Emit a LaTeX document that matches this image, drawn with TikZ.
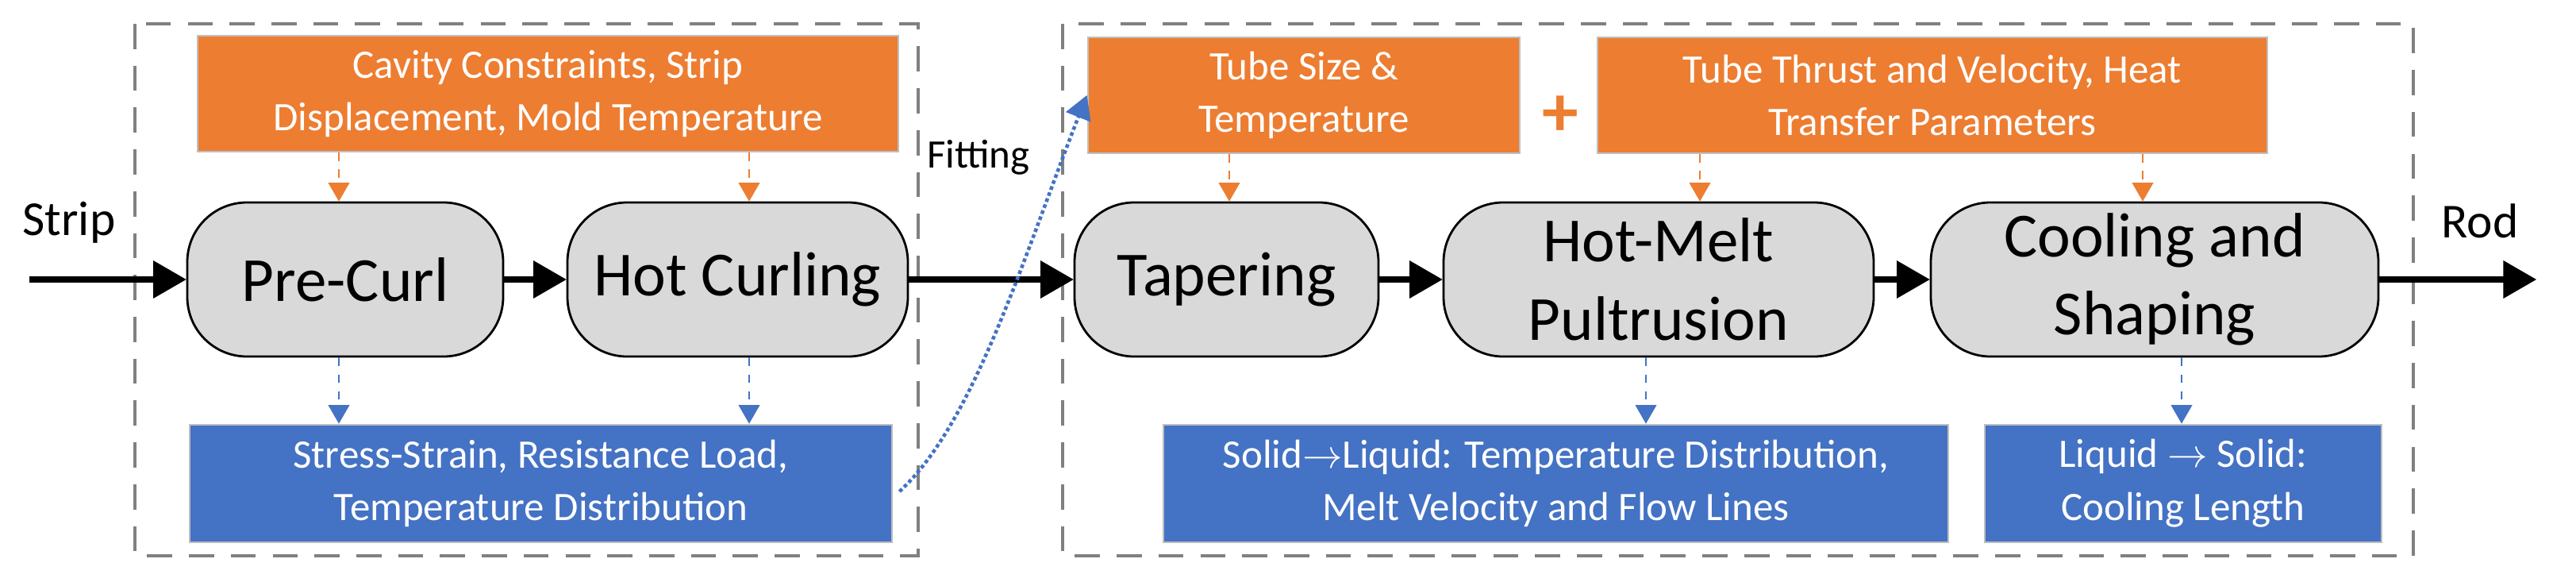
\documentclass[tikz,border=0pt]{standalone}
\usepackage{fontspec}
\setmainfont{Carlito}
\usetikzlibrary{shapes,positioning,arrows}
\definecolor{porange}{HTML}{ED7D31}
\definecolor{pblue}{HTML}{4472C4}
\definecolor{pgray}{HTML}{D9D9D9}
\begin{document}
\begin{tikzpicture}

  \useasboundingbox (0,0) rectangle (32.46,-7.33);

  \coordinate (Strip) at (0.37,-3.52);
  \coordinate (Rod) at (31.96,-3.52);
  \coordinate (PreCurl) at (4.35,-3.52);
  \coordinate (HotCurl) at (9.295,-3.52);
  \coordinate (Taper) at (15.455,-3.52);
  \coordinate (Melt) at (20.9,-3.52);
  \coordinate (Cool) at (27.15,-3.52);

  \tikzstyle{pbox}=[draw=black,thick,fill=pgray,
                    shape=rectangle,rounded corners=0.75cm,
                    inner sep=2pt,minimum height=1.94cm,
                    align=center,font=\fontsize{22.5}{28}\selectfont];
  \tikzstyle{obox}=[draw=black!25,thick,fill=porange,text=white,
                    shape=rectangle,inner sep=2pt,minimum height=1.46cm,
                    align=center,font=\fontsize{14.5}{19}\selectfont];
  \tikzstyle{bbox}=[draw=black!25,thick,fill=pblue,text=white,
                    shape=rectangle,inner sep=2pt,minimum height=1.48cm,
                    align=center,font=\fontsize{14.5}{19}\selectfont];
  \tikzstyle{flow}=[->,line width=2.3pt,>=triangle 60];
  \tikzstyle{odash}=[->,dashed,thick,color=porange,>=triangle 60];
  \tikzstyle{bdash}=[->,dashed,thick,color=pblue,>=triangle 60];
  \tikzstyle{frame}=[draw=black!50,dashed,line width=1.3pt,dash pattern=on 9pt off 6pt];

  % dashed groups
  \draw[frame] (1.70,-0.30) rectangle (11.57,-7.00);
  \draw[frame] (13.39,-0.30) rectangle (30.41,-7.00);

  % inputs
  \node[obox,minimum width=8.83cm] (CavityBox) at (6.905,-1.18)
      {Cavity Constraints, Strip\\Displacement, Mold Temperature};
  \node[obox,minimum width=5.44cm] (TubeBox) at (16.43,-1.20)
      {Tube Size \&\\Temperature};
  \node[obox,minimum width=8.44cm] (ThrustBox) at (24.35,-1.20)
      {Tube Thrust and Velocity, Heat\\Transfer Parameters};
  \node[text=porange,font=\bfseries\fontsize{26}{26}\selectfont] (Plus) at (19.66,-1.46) {+};

  % process steps
  \node[pbox,minimum width=3.98cm] (PreCurlBox) at (PreCurl) {Pre-Curl};
  \node[pbox,minimum width=4.29cm] (HotCurlBox) at (HotCurl) {Hot Curling};
  \node[pbox,minimum width=3.83cm] (TaperBox) at (Taper) {Tapering};
  \node[pbox,minimum width=5.42cm] (MeltBox) at (Melt) {Hot-Melt\\Pultrusion};
  \node[pbox,minimum width=5.64cm] (CoolBox) at (Cool) {Cooling and\\Shaping};

  % outputs
  \node[bbox,minimum width=8.85cm] (StressBox) at (6.815,-6.09)
      {Stress-Strain, Resistance Load,\\Temperature Distribution};
  \node[bbox,minimum width=9.89cm] (MeltOutBox) at (19.605,-6.09)
      {Solid$\rightarrow$Liquid: Temperature Distribution,\\Melt Velocity and Flow Lines};
  \node[bbox,minimum width=5.00cm] (CoolOutBox) at (27.51,-6.09)
      {Liquid $\rightarrow$ Solid:\\Cooling Length};

  % labels
  \node[font=\fontsize{17.5}{20}\selectfont] (StripLabel) at (0.87,-2.80) {Strip};
  \node[font=\fontsize{17.5}{20}\selectfont] (RodLabel) at (31.25,-2.78) {Rod};
  \node[font=\fontsize{14.5}{18}\selectfont] (FitLabel) at (12.33,-1.98) {Fitting};

  % main flow
  \draw[flow] (Strip) -- (PreCurlBox);
  \draw[flow] (PreCurlBox) -- (HotCurlBox);
  \draw[flow] (HotCurlBox) -- (TaperBox);
  \draw[flow] (TaperBox) -- (MeltBox);
  \draw[flow] (MeltBox) -- (CoolBox);
  \draw[flow] (CoolBox) -- (Rod);

  % inputs to steps
  \draw[odash] (CavityBox.south -| 4.27,0) -- (PreCurlBox.north -| 4.27,0);
  \draw[odash] (CavityBox.south -| 9.44,0) -- (HotCurlBox.north -| 9.44,0);
  \draw[odash] (TubeBox.south -| 15.49,0) -- (TaperBox.north -| 15.49,0);
  \draw[odash] (ThrustBox.south -| 21.42,0) -- (MeltBox.north -| 21.42,0);
  \draw[odash] (ThrustBox.south -| 27.00,0) -- (CoolBox.north -| 27.00,0);

  % steps to outputs
  \draw[bdash] (PreCurlBox.south -| 4.27,0) -- (StressBox.north -| 4.27,0);
  \draw[bdash] (HotCurlBox.south -| 9.44,0) -- (StressBox.north -| 9.44,0);
  \draw[bdash] (MeltBox.south -| 20.74,0) -- (MeltOutBox.north -| 20.74,0);
  \draw[bdash] (CoolBox.south -| 27.49,0) -- (CoolOutBox.north -| 27.49,0);

  % fitting
  \draw[->,densely dotted,line width=1.3pt,color=pblue,>=triangle 60]
      (StressBox.east) ++(0.08,-0.1) coordinate (FitStart)
      (FitStart) .. controls (12.3,-5.3) and (12.9,-3.2) .. (TubeBox.west);

\end{tikzpicture}
\end{document}
